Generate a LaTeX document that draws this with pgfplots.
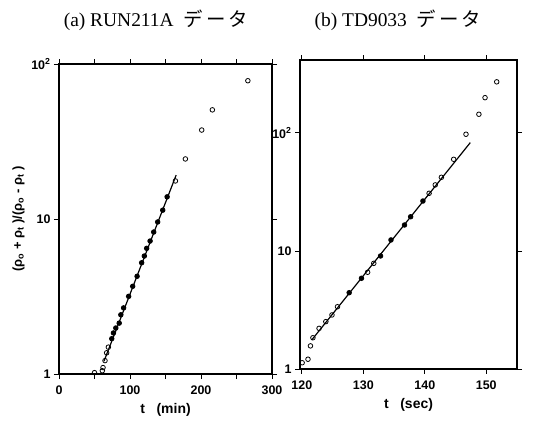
\documentclass[border=0pt]{standalone}
\usepackage{pgfplots}
\pgfplotsset{compat=1.18}
\usepackage{fontspec}
\setmainfont{Liberation Serif}
\setsansfont{Liberation Sans}
\newfontfamily\jp{Noto Sans CJK JP}
\begin{document}
\begin{tikzpicture}
\useasboundingbox (0bp,0bp) rectangle (535bp,425bp);
\pgfplotsset{
  every axis/.append style={
    scale only axis, axis line style={line width=1.1pt},
    tick style={line width=0.9pt, black}, tick align=outside,
    major tick length=5bp,
    tick label style={font=\fontsize{12.5}{13}\selectfont\sffamily\bfseries},
    xticklabel style={yshift=-3bp},
    /pgf/number format/assume math mode=true,
    label style={font=\fontsize{14}{15}\selectfont\sffamily\bfseries},
    xlabel style={yshift=-2bp},
    ymode=log, ymin=1, yminorticks=false,
    ytick={1,10,100}, yticklabels={1,10,10\textsuperscript{2}},
  },
  openm/.style={only marks, mark=o, mark size=2.3bp, line width=0.8pt, mark options={fill=white}},
  fillm/.style={only marks, mark=*, mark size=2.3bp, line width=0.8pt},
  fitline/.style={line width=1.2pt, black, no marks},
}
% (a) left panel
\begin{axis}[at={(59bp,51bp)}, anchor=south west, width=213bp, height=310bp,
  xmin=0, xmax=300, ymax=100,
  xtick={0,50,...,300}, xticklabels={0,,100,,200,,300},
  xlabel={t\ \ \ (min)},
  ylabel={(ρ\textsubscript{o} + ρ\textsubscript{t} )/(ρ\textsubscript{o} - ρ\textsubscript{t} )},
  ylabel style={font=\fontsize{13}{14}\selectfont\sffamily\bfseries},
]
\addplot[fitline] coordinates {(63.4,1.21) (165,19.2)};
\addplot[openm] coordinates {(50,1.02) (61,1.05) (62,1.10) (64.8,1.22) (67.1,1.37) (69.5,1.49)
  (164,17.6) (178,24.4) (201,37.5) (216,50.6) (266,78)};
\addplot[fillm] coordinates {(74.3,1.69) (76.7,1.84) (80,1.98) (84.8,2.13) (87.1,2.41) (91,2.67)
  (98.1,3.17) (103.8,3.68) (110,4.27) (116.4,5.22) (120.2,5.77) (123.5,6.47) (128.3,7.21)
  (133.4,8.24) (139,9.57) (146.1,11.4) (152.3,13.9)};
\end{axis}
% (b) right panel
\begin{axis}[at={(300bp,56bp)}, anchor=south west, width=217bp, height=309bp,
  xmin=119.7, xmax=155, ymax=415,
  xtick={120,130,140,150},
  xlabel={t\ \ \ (sec)},
]
\addplot[fitline] coordinates {(121.6,1.76) (147.4,82.8)};
\addplot[openm] coordinates {(120.05,1.13) (121.0,1.21) (121.4,1.57) (121.8,1.84) (122.8,2.21)
  (123.9,2.52) (124.9,2.87) (125.8,3.37) (130.7,6.6) (131.7,7.86) (140.7,30.8) (141.7,36.3)
  (142.7,42.1) (144.7,59.8) (146.7,97.5) (148.8,144) (149.8,199) (151.7,271)};
\addplot[fillm] coordinates {(127.7,4.43) (129.7,5.87) (132.8,9.07) (134.5,12.4) (136.7,16.6)
  (137.7,19.5) (139.7,26.5)};
\end{axis}
\node[font=\fontsize{19.5}{20}\selectfont] at (156bp,405bp) {(a) RUN211A\ \ {\jp デ\,ー\,タ}};
\node[font=\fontsize{19.5}{20}\selectfont] at (398bp,405bp) {(b) TD9033\ \ {\jp デ\,ー\,タ}};
\end{tikzpicture}
\end{document}
